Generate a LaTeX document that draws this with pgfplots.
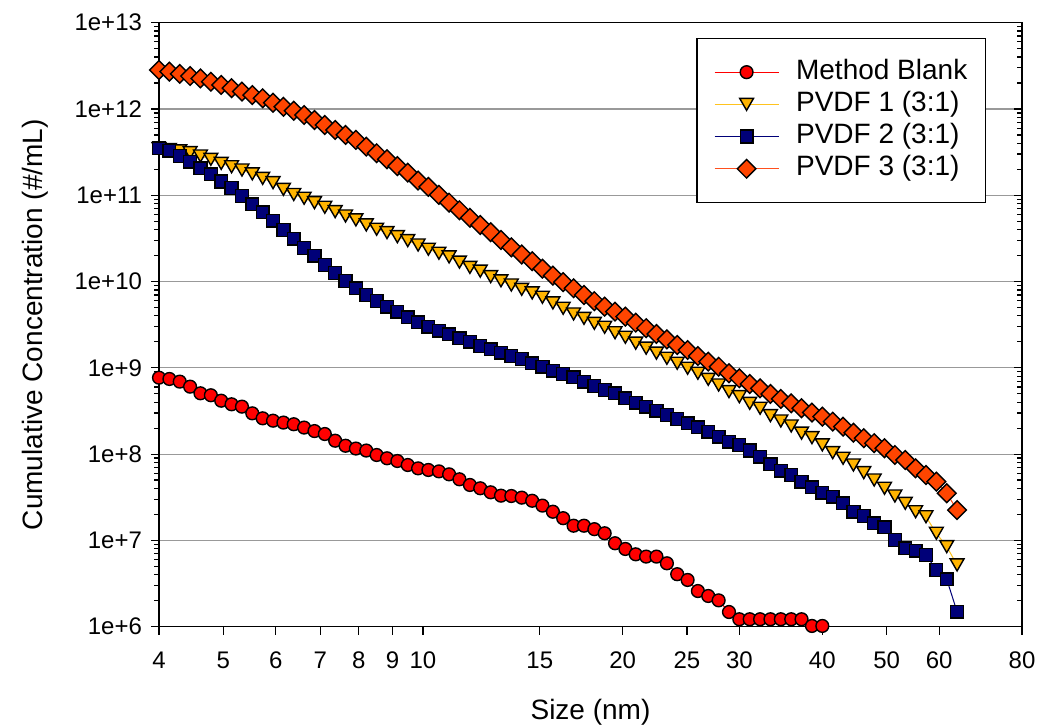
\documentclass[border=0pt]{standalone}
\usepackage{fontspec}
\setmainfont{Liberation Sans}
\usepackage{pgfplots}
\usepackage{pgfplotstable}
\pgfplotsset{compat=1.18}
\definecolor{mbred}{RGB}{255,0,0}
\definecolor{pafill}{RGB}{255,180,0}
\definecolor{paline}{RGB}{255,195,30}
\definecolor{pbnavy}{RGB}{0,0,120}
\definecolor{pcfill}{RGB}{255,69,0}
\definecolor{pcline}{RGB}{255,80,30}

\pgfplotstableread{
x mb p1 p2 p3
4.000 7.69e8 3.47e11 3.50e11 2.83e12
4.147 7.43e8 3.39e11 3.29e11 2.71e12
4.299 6.92e8 3.27e11 2.85e11 2.55e12
4.456 6.05e8 3.12e11 2.45e11 2.41e12
4.619 5.07e8 2.85e11 2.05e11 2.26e12
4.789 4.81e8 2.61e11 1.75e11 2.07e12
4.964 4.16e8 2.34e11 1.44e11 1.90e12
5.146 3.78e8 2.14e11 1.21e11 1.74e12
5.335 3.55e8 1.96e11 9.82e10 1.59e12
5.530 2.97e8 1.77e11 7.85e10 1.45e12
5.733 2.60e8 1.57e11 6.35e10 1.33e12
5.943 2.44e8 1.40e11 5.07e10 1.18e12
6.161 2.32e8 1.17e11 3.96e10 1.06e12
6.386 2.22e8 1.02e11 3.14e10 9.55e11
6.620 2.03e8 9.23e10 2.45e10 8.51e11
6.863 1.85e8 8.20e10 1.99e10 7.45e11
7.113 1.71e8 7.26e10 1.56e10 6.52e11
7.374 1.43e8 6.46e10 1.25e10 5.71e11
7.644 1.25e8 5.75e10 1.02e10 5.00e11
7.924 1.16e8 5.18e10 8.36e9 4.38e11
8.214 1.10e8 4.53e10 6.98e9 3.66e11
8.515 9.77e7 4.04e10 5.96e9 3.07e11
8.827 8.95e7 3.69e10 5.12e9 2.61e11
9.150 8.32e7 3.31e10 4.48e9 2.18e11
9.486 7.48e7 2.98e10 3.85e9 1.83e11
9.833 6.84e7 2.65e10 3.37e9 1.48e11
10.19 6.55e7 2.37e10 3.00e9 1.25e11
10.57 6.31e7 2.13e10 2.69e9 1.01e11
10.95 5.83e7 1.93e10 2.45e9 8.20e10
11.35 5.11e7 1.68e10 2.20e9 6.70e10
11.77 4.39e7 1.46e10 2.01e9 5.48e10
12.20 4.02e7 1.32e10 1.79e9 4.53e10
12.65 3.61e7 1.14e10 1.64e9 3.73e10
13.11 3.30e7 1.02e10 1.50e9 3.03e10
13.59 3.27e7 9.12e9 1.37e9 2.49e10
14.09 3.13e7 8.13e9 1.26e9 2.06e10
14.61 2.88e7 7.38e9 1.13e9 1.72e10
15.14 2.53e7 6.58e9 1.03e9 1.41e10
15.70 2.15e7 5.65e9 9.27e8 1.17e10
16.27 1.81e7 4.90e9 8.49e8 9.84e9
16.87 1.48e7 4.21e9 7.78e8 8.36e9
17.49 1.48e7 3.75e9 6.92e8 6.98e9
18.13 1.35e7 3.28e9 6.17e8 5.92e9
18.79 1.21e7 2.95e9 5.55e8 5.12e9
19.48 9.27e6 2.55e9 5.07e8 4.48e9
20.19 7.96e6 2.26e9 4.44e8 3.92e9
20.93 6.90e6 1.93e9 3.94e8 3.34e9
21.70 6.49e6 1.69e9 3.55e8 2.88e9
22.49 6.49e6 1.48e9 3.19e8 2.47e9
23.32 5.43e6 1.29e9 2.84e8 2.14e9
24.17 4.06e6 1.13e9 2.54e8 1.84e9
25.06 3.48e6 9.89e8 2.28e8 1.61e9
25.97 2.59e6 8.65e8 2.05e8 1.37e9
26.92 2.27e6 7.36e8 1.82e8 1.18e9
27.91 2.02e6 6.32e8 1.59e8 1.03e9
28.93 1.48e6 5.30e8 1.39e8 8.65e8
29.99 1.22e6 4.63e8 1.28e8 7.57e8
31.09 1.22e6 3.88e8 1.10e8 6.50e8
32.23 1.22e6 3.40e8 9.33e7 5.79e8
33.41 1.22e6 2.79e8 7.62e7 4.98e8
34.64 1.22e6 2.42e8 6.43e7 4.36e8
35.91 1.22e6 2.12e8 5.73e7 3.88e8
37.22 1.22e6 1.75e8 4.80e7 3.40e8
38.59 1.02e6 1.55e8 4.13e7 3.03e8
40.00 1.02e6 1.28e8 3.57e7 2.72e8
41.47 nan 1.04e8 3.21e7 2.38e8
42.99 nan 8.95e7 2.69e7 2.08e8
44.56 nan 7.48e7 2.15e7 1.77e8
46.19 nan 6.10e7 1.92e7 1.53e8
47.89 nan 5.01e7 1.58e7 1.34e8
49.64 nan 4.02e7 1.42e7 1.17e8
51.46 nan 3.27e7 1.01e7 9.77e7
53.35 nan 2.69e7 8.11e6 8.55e7
55.30 nan 2.15e7 7.60e6 6.85e7
57.33 nan 1.88e7 6.78e6 5.73e7
59.43 nan 1.21e7 4.54e6 4.80e7
61.61 nan 8.47e6 3.54e6 3.52e7
63.86 nan 5.20e6 1.49e6 2.25e7
}\data

\begin{document}
\begin{tikzpicture}
\begin{axis}[
  at={(0,0)}, anchor=south west,
  scale only axis, width=431.5pt, height=302pt,
  xmode=log, ymode=log,
  xmin=4, xmax=80, ymin=1e6, ymax=1e13,
  xtick={4,5,6,7,8,9,10,15,20,25,30,40,50,60,80},
  xticklabels={4,5,6,7,8,9,10,15,20,25,30,40,50,60,80},
  xminorticks=false,
  ytick={1e6,1e7,1e8,1e9,1e10,1e11,1e12,1e13},
  yticklabels={1e+6,1e+7,1e+8,1e+9,1e+10,1e+11,1e+12,1e+13},
  minor ytick={2e6,3e6,4e6,5e6,6e6,7e6,8e6,9e6,
    2e7,3e7,4e7,5e7,6e7,7e7,8e7,9e7,
    2e8,3e8,4e8,5e8,6e8,7e8,8e8,9e8,
    2e9,3e9,4e9,5e9,6e9,7e9,8e9,9e9,
    2e10,3e10,4e10,5e10,6e10,7e10,8e10,9e10,
    2e11,3e11,4e11,5e11,6e11,7e11,8e11,9e11,
    2e12,3e12,4e12,5e12,6e12,7e12,8e12,9e12},
  ymajorgrids,
  major grid style={draw=black!40, line width=0.6pt},
  axis line style={line width=0.7pt},
  tick style={black, line width=0.6pt},
  xtick pos=bottom, ytick pos=left, tick align=outside,
  major tick length=4pt, minor tick length=2.5pt,
  ticklabel style={font=\fontsize{12}{14}\selectfont},
  xticklabel style={yshift=-5pt},
  yticklabel style={xshift=-1pt},
  /pgf/number format/assume math mode=true,
  xlabel={Size (nm)},
  ylabel={Cumulative Concentration (\#/mL)},
  label style={font=\fontsize{14}{16}\selectfont},
  xlabel style={at={(axis description cs:0.5,-0.142)}, anchor=center},
  ylabel style={at={(axis description cs:-0.1437,0.5)}, anchor=center},
  legend cell align=left,
  legend image code/.code={\draw[mark repeat=2,mark phase=2,#1] plot coordinates {(0pt,0pt) (16pt,0pt) (32pt,0pt)};},
  legend style={at={(axis description cs:0.9583,0.9752)}, anchor=north east,
    draw=black, line width=0.7pt, fill=white,
    inner xsep=8.5pt, inner ysep=9.5pt, row sep=1.3pt,
    font=\fontsize{14}{16}\selectfont,
    nodes={inner sep=0.5pt, text height=10.5pt, text depth=3.3pt},
    /tikz/every odd column/.append style={column sep=8pt}},
]
\addplot[mbred, line width=0.5pt, mark=*, mark size=3.2pt,
  mark options={solid, fill=mbred, draw=black, line width=0.7pt}]
  table[x=x, y=mb]{\data};
\addlegendentry{Method Blank}
\addplot[paline, line width=0.5pt, mark=triangle*, mark size=4pt,
  mark options={solid, yshift=1pt, rotate=180, fill=pafill, draw=black, line width=0.7pt}]
  table[x=x, y=p1]{\data};
\addlegendentry{PVDF 1 (3:1)}
\addplot[pbnavy, line width=0.5pt, mark=square*, mark size=3.2pt,
  mark options={solid, fill=pbnavy, draw=black, line width=0.7pt}]
  table[x=x, y=p2]{\data};
\addlegendentry{PVDF 2 (3:1)}
\addplot[pcline, line width=0.5pt, mark=square*, mark size=3.3pt,
  mark options={solid, rotate=45, fill=pcfill, draw=black, line width=0.7pt}]
  table[x=x, y=p3]{\data};
\addlegendentry{PVDF 3 (3:1)}
\end{axis}
\begin{axis}[
  at={(0,0)}, anchor=south west,
  scale only axis, width=431.5pt, height=302pt,
  xmode=log, ymode=log,
  xmin=4, xmax=80, ymin=1e6, ymax=1e13,
  axis x line=none, axis y line*=right,
  ytick={1e6,1e7,1e8,1e9,1e10,1e11,1e12,1e13},
  yticklabels={},
  minor ytick={2e6,3e6,4e6,5e6,6e6,7e6,8e6,9e6,
    2e7,3e7,4e7,5e7,6e7,7e7,8e7,9e7,
    2e8,3e8,4e8,5e8,6e8,7e8,8e8,9e8,
    2e9,3e9,4e9,5e9,6e9,7e9,8e9,9e9,
    2e10,3e10,4e10,5e10,6e10,7e10,8e10,9e10,
    2e11,3e11,4e11,5e11,6e11,7e11,8e11,9e11,
    2e12,3e12,4e12,5e12,6e12,7e12,8e12,9e12},
  tick align=inside,
  major tick length=4pt, minor tick length=2.5pt,
  tick style={black, line width=0.6pt},
  axis line style={line width=0.7pt, -},
]
\addplot[draw=none] coordinates {(4,1e6)};
\end{axis}
\pgfresetboundingbox
\path[use as bounding box] (-79.5pt,-50.65pt) rectangle (440.5pt,313.35pt);
\end{tikzpicture}
\end{document}
